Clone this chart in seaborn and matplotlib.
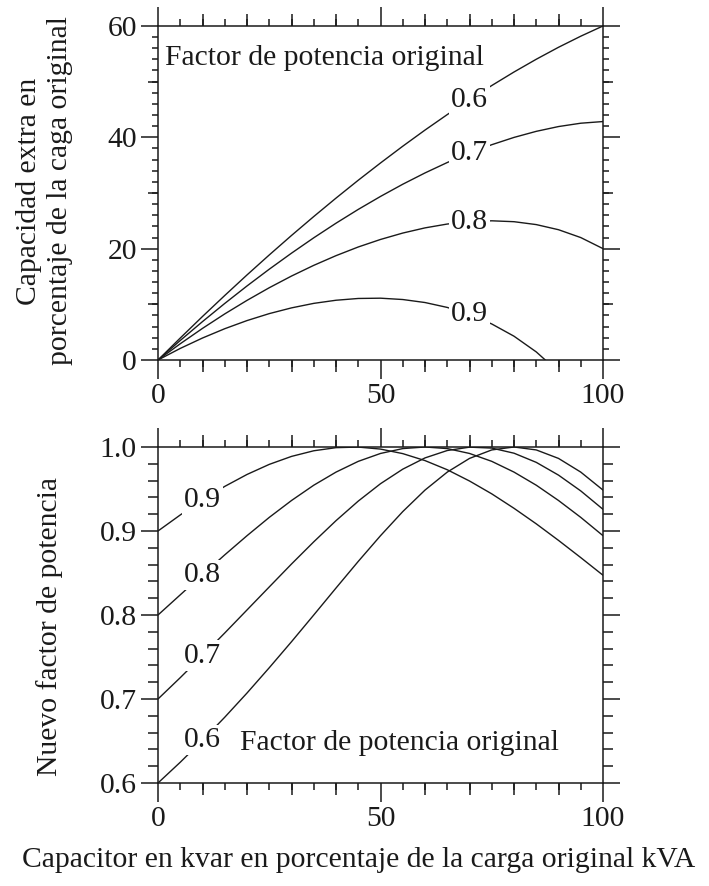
import matplotlib
matplotlib.use("Agg")
import matplotlib.pyplot as plt
import pandas as pd
import seaborn as sns
from matplotlib.ticker import FixedLocator, MultipleLocator

# capacitor kvar as % of original kVA load (sampled every 5 %)
kvar_pct = [0, 5, 10, 15, 20, 25, 30, 35, 40, 45, 50,
            55, 60, 65, 70, 75, 80, 85, 90, 95, 100]

original_pf = ["0.6", "0.7", "0.8", "0.9"]

# top panel: extra capacity in % of the original load
extra_06 = [0.00, 3.95, 7.82, 11.59, 15.28, 18.87, 22.37, 25.77, 29.08, 32.29, 35.39,
            38.40, 41.30, 44.08, 46.75, 49.30, 51.73, 54.02, 56.17, 58.16, 60.00]
extra_07 = [0.00, 3.51, 6.90, 10.16, 13.30, 16.31, 19.19, 21.95, 24.57, 27.05, 29.38,
            31.57, 33.60, 35.47, 37.16, 38.67, 39.98, 41.07, 41.93, 42.53, 42.83]
extra_08 = [0.00, 2.92, 5.68, 8.28, 10.71, 12.98, 15.08, 17.00, 18.74, 20.30, 21.65,
            22.80, 23.73, 24.42, 24.85, 25.00, 24.84, 24.32, 23.40, 21.99, 20.00]
extra_09 = [0.00, 2.08, 3.95, 5.62, 7.08, 8.33, 9.36, 10.17, 10.73, 11.05, 11.10,
            10.86, 10.32, 9.44, 8.17, 6.47, 4.27, 1.45, -2.13, -6.73, -12.82]

# bottom panel: new power factor
newpf_06 = [0.6000, 0.6247, 0.6508, 0.6783, 0.7071, 0.7372, 0.7682, 0.8000, 0.8321, 0.8638, 0.8944,
            0.9231, 0.9487, 0.9701, 0.9864, 0.9965, 1.0000, 0.9965, 0.9864, 0.9701, 0.9487]
newpf_07 = [0.7000, 0.7254, 0.7517, 0.7786, 0.8060, 0.8334, 0.8607, 0.8871, 0.9123, 0.9356, 0.9563,
            0.9736, 0.9870, 0.9958, 0.9998, 0.9987, 0.9926, 0.9817, 0.9665, 0.9477, 0.9258]
newpf_08 = [0.8000, 0.8240, 0.8480, 0.8716, 0.8944, 0.9162, 0.9363, 0.9545, 0.9701, 0.9829, 0.9923,
            0.9981, 1.0000, 0.9981, 0.9923, 0.9829, 0.9701, 0.9545, 0.9363, 0.9162, 0.8944]
newpf_09 = [0.9000, 0.9191, 0.9369, 0.9531, 0.9673, 0.9793, 0.9888, 0.9955, 0.9992, 0.9999, 0.9975,
            0.9921, 0.9838, 0.9729, 0.9595, 0.9442, 0.9270, 0.9085, 0.8888, 0.8683, 0.8473]

INK = "#1a1a1a"
FS = 21.3
TICK_W = 1.1

sns.set_theme(style="ticks")
plt.rcParams["font.family"] = ["Liberation Serif", "DejaVu Serif"]
plt.rcParams["axes.edgecolor"] = INK
plt.rcParams["axes.linewidth"] = TICK_W


def long_frame(series, value_col):
    rows = []
    for label, values in zip(original_pf, series):
        for x, v in zip(kvar_pct, values):
            rows.append({"kvar": x, value_col: v, "pf": label})
    return pd.DataFrame(rows)


def set_ticks(ax, ymajor, yminor, ymid, ylen_minor, ylen_mid):
    ax.xaxis.set_major_locator(FixedLocator([0, 50, 100]))
    ax.xaxis.set_minor_locator(MultipleLocator(5))
    ax.yaxis.set_major_locator(FixedLocator(ymajor))
    ax.yaxis.set_minor_locator(MultipleLocator(yminor))
    ax.tick_params(which="both", direction="out", top=True, right=True,
                   color=INK, width=TICK_W, labelsize=FS, labelcolor=INK)
    ax.tick_params(axis="x", which="major", length=13.5, pad=3)
    ax.tick_params(axis="x", which="minor", length=5)
    ax.tick_params(axis="y", which="major", length=12.2, pad=3)
    ax.tick_params(axis="y", which="minor", length=ylen_minor)

    # intermediate tick level (every 10 on x, and mid ticks on y)
    xmid = [10, 20, 30, 40, 60, 70, 80, 90]
    for side in ("bottom", "top"):
        sec = ax.secondary_xaxis(side)
        sec.set_xticks(xmid)
        sec.tick_params(direction="out", length=8.6, width=TICK_W, color=INK,
                        labelbottom=False, labeltop=False)
        for sp in sec.spines.values():
            sp.set_visible(False)
    if ymid:
        for side in ("left", "right"):
            sec = ax.secondary_yaxis(side)
            sec.set_yticks(ymid)
            sec.tick_params(direction="out", length=ylen_mid, width=TICK_W, color=INK,
                            labelleft=False, labelright=False)
            for sp in sec.spines.values():
                sp.set_visible(False)


fig = plt.figure(figsize=(7.09, 8.86), dpi=100)
ax_top = fig.add_axes([0.2229, 0.5937, 0.6276, 0.377])
ax_bot = fig.add_axes([0.2229, 0.1163, 0.6276, 0.3792])

label_box = dict(facecolor="white", edgecolor="none", pad=1.5)
black = {label: INK for label in original_pf}

# --- top: extra capacity ---
top_df = long_frame([extra_06, extra_07, extra_08, extra_09], "extra")
sns.lineplot(data=top_df, x="kvar", y="extra", hue="pf", palette=black,
             legend=False, linewidth=1.0, errorbar=None, ax=ax_top)
ax_top.set_xlim(0, 100)
ax_top.set_ylim(0, 60)
set_ticks(ax_top, [0, 20, 40, 60], 2, [10, 30, 50], 4.3, 7.2)
ax_top.set_xlabel("")
ax_top.set_ylabel("Capacidad extra en\nporcentaje de la caga original",
                  fontsize=FS, color=INK, linespacing=1.25)
ax_top.yaxis.set_label_coords(-0.19, 0.506)
ax_top.text(1.6, 54.3, "Factor de potencia original", fontsize=FS, color=INK,
            ha="left", va="center")
i70 = kvar_pct.index(70)
for label, values in zip(original_pf, [extra_06, extra_07, extra_08, extra_09]):
    ax_top.text(70, values[i70], label, fontsize=FS, color=INK,
                ha="center", va="center", bbox=label_box)

# --- bottom: new power factor ---
bot_df = long_frame([newpf_06, newpf_07, newpf_08, newpf_09], "newpf")
sns.lineplot(data=bot_df, x="kvar", y="newpf", hue="pf", palette=black,
             legend=False, linewidth=1.0, errorbar=None, ax=ax_bot)
ax_bot.set_xlim(0, 100)
ax_bot.set_ylim(0.6, 1.0)
set_ticks(ax_bot, [0.6, 0.7, 0.8, 0.9, 1.0], 0.02, None, 7.2, 0)
ax_bot.yaxis.set_major_formatter(plt.FuncFormatter(lambda v, _: f"{v:.1f}"))
ax_bot.set_xlabel("")
ax_bot.set_ylabel("Nuevo factor de potencia", fontsize=FS, color=INK)
ax_bot.yaxis.set_label_coords(-0.2135, 0.467)
ax_bot.text(18.4, 0.6476, "Factor de potencia original", fontsize=FS, color=INK,
            ha="left", va="center")
i10 = kvar_pct.index(10)
for label, values in zip(original_pf, [newpf_06, newpf_07, newpf_08, newpf_09]):
    ax_bot.text(10, values[i10], label, fontsize=FS, color=INK,
                ha="center", va="center", bbox=label_box)

fig.text(0.506, 0.029, "Capacitor en kvar en porcentaje de la carga original kVA",
         fontsize=FS, color=INK, ha="center", va="center")

fig.savefig("out.png", dpi=100)
